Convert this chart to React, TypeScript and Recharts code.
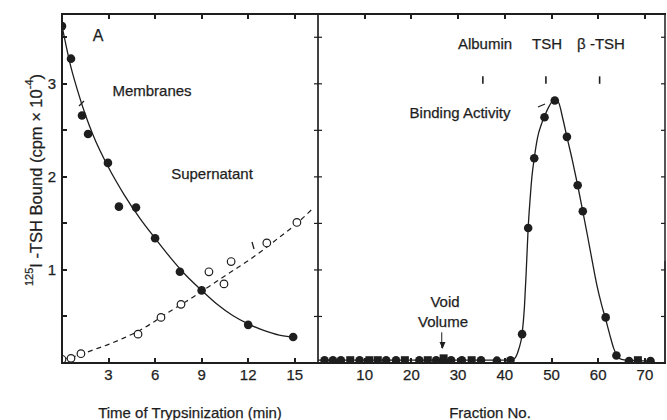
import React from "react";
import { ComposedChart, Line, Scatter, XAxis, YAxis, ReferenceLine } from "recharts";

const INK = "#1e1e1e";
const FONT = "'Liberation Sans', Arial, sans-serif";

// panel A - trypsin time course
const membraneTime = [0, 0.58, 1.29, 1.68, 2.96, 3.67, 4.77, 6.0, 7.6, 9.0, 12.0, 14.9];
const membraneBound = [3.62, 3.27, 2.66, 2.46, 2.15, 1.68, 1.67, 1.34, 0.98, 0.78, 0.41, 0.28];
const supernatantTime = [0, 0.58, 1.22, 4.9, 6.38, 7.67, 9.47, 10.44, 10.9, 13.2, 15.14];
const supernatantBound = [0.04, 0.05, 0.1, 0.31, 0.49, 0.63, 0.98, 0.85, 1.09, 1.29, 1.51];
// hand drawn curves
const membraneCurveTime = [0, 0.25, 0.5, 1, 1.5, 2, 3, 4, 5, 6, 7, 8, 9, 10, 11, 12, 13, 14, 14.9];
const membraneCurveBound = [3.62, 3.42, 3.23, 2.93, 2.67, 2.45, 2.1, 1.81, 1.56, 1.34, 1.13, 0.94, 0.78, 0.63, 0.51, 0.42, 0.35, 0.3, 0.28];
const supernatantCurveTime = [0, 1, 2, 3, 4, 5, 6, 7, 8, 9, 10, 11, 12, 13, 14, 15, 16.1];
const supernatantCurveBound = [0.04, 0.08, 0.14, 0.2, 0.27, 0.35, 0.45, 0.56, 0.66, 0.77, 0.88, 0.99, 1.1, 1.22, 1.35, 1.48, 1.65];

// panel B - gel filtration
const fraction = [1.4, 3.2, 4.9, 8.9, 14.6, 16.7, 21.7, 25.3, 28.5, 30.8, 34.9, 38.3, 41.2, 43.7, 45.0, 46.3, 48.5, 50.7, 53.3, 55.6, 56.7, 61.6, 63.9, 66.6, 71.2];
const binding = [0.03, 0.03, 0.03, 0.03, 0.03, 0.03, 0.03, 0.03, 0.03, 0.03, 0.03, 0.025, 0.03, 0.31, 1.45, 2.2, 2.64, 2.82, 2.43, 1.91, 1.63, 0.49, 0.08, 0.02, 0.02];
const squareFraction = [6.9, 11.0, 12.8, 18.6, 23.5, 26.9, 32.9, 68.5];
const squareBinding = [0.03, 0.03, 0.03, 0.03, 0.03, 0.05, 0.03, 0.03];
const curveFraction = [0, 10, 20, 30, 41.5, 42.3, 43, 43.7, 44.2, 44.6, 45, 45.4, 45.8, 46.3, 47, 47.8, 48.5, 49.5, 50.6, 51.5, 52.4, 53.3, 54.5, 55.6, 56.7, 57.7, 58.7, 59.7, 60.7, 61.6, 62.5, 63.3, 64, 65, 66.6, 71.2];
const curveBinding = [0.03, 0.03, 0.03, 0.03, 0.03, 0.06, 0.15, 0.31, 0.6, 1.0, 1.45, 1.75, 2.0, 2.2, 2.42, 2.56, 2.65, 2.76, 2.83, 2.8, 2.63, 2.43, 2.17, 1.91, 1.63, 1.37, 1.1, 0.84, 0.63, 0.47, 0.3, 0.16, 0.08, 0.04, 0.03, 0.02];
const markerFraction = [35.3, 48.8, 60.3]; // Albumin, TSH, beta-TSH

const timeTicks = [3, 6, 9, 12, 15];
const fractionTicks = [10, 20, 30, 40, 50, 60, 70];
const boundTicks = [0.5, 1, 1.5, 2, 2.5, 3, 3.5];

const TIME_MAX = 16.5;
const FRACTION_MAX = 74.3;
const BOUND_MAX = 3.75;

// plot box in pixels, matches the chart margins below
const PLOT_TOP = 14;
const PLOT_BOTTOM = 363;
const A_LEFT = 62;
const A_RIGHT = 318;
const B_RIGHT = 665;

const pts = (xs: number[], ys: number[]) => xs.map((x, i) => ({ x, y: ys[i] }));

const Dot = (p: any) => <circle cx={p.cx} cy={p.cy} r={4.3} fill={INK} />;
const OpenDot = (p: any) => <circle cx={p.cx} cy={p.cy} r={3.8} fill="#fff" stroke={INK} strokeWidth={1.2} />;
const Square = (p: any) => <rect x={p.cx - 4} y={p.cy - 4} width={8} height={8} fill={INK} />;

const tickStyle = { fill: INK, fontSize: 15, fontFamily: FONT, stroke: INK, strokeWidth: 0.25 };
const line = { stroke: INK, strokeWidth: 1.2 };
const blank = () => "";

function PanelA() {
  return (
    <ComposedChart width={320} height={420} margin={{ top: PLOT_TOP, right: 1, bottom: 27, left: 2 }}>
      <XAxis xAxisId="b" type="number" dataKey="x" domain={[0, TIME_MAX]} ticks={timeTicks} tickMargin={6} tickSize={0}
        height={30} axisLine={false} tickLine={false} tick={tickStyle} allowDataOverflow />
      <YAxis yAxisId="l" type="number" dataKey="y" domain={[0, BOUND_MAX]} ticks={boundTicks} tickSize={0} tickMargin={6}
        width={60} axisLine={false} tickLine={false} tick={tickStyle}
        tickFormatter={(v: number) => (Number.isInteger(v) ? String(v) : "")} allowDataOverflow />
      <YAxis yAxisId="r" orientation="right" type="number" dataKey="y" domain={[0, BOUND_MAX]} ticks={boundTicks} tickSize={-4}
        width={1} axisLine={line} tickLine={line} tickFormatter={blank} allowDataOverflow />
      <Line xAxisId="b" yAxisId="l" data={pts(membraneCurveTime, membraneCurveBound)} dataKey="y" type="monotone"
        dot={false} stroke={INK} strokeWidth={1.3} isAnimationActive={false} />
      <Line xAxisId="b" yAxisId="l" data={pts(supernatantCurveTime, supernatantCurveBound)} dataKey="y" type="monotone"
        dot={false} stroke={INK} strokeWidth={1.2} strokeDasharray="5 4" isAnimationActive={false} />
      <Scatter xAxisId="b" yAxisId="l" data={pts(supernatantTime, supernatantBound)} dataKey="y" shape={OpenDot} isAnimationActive={false} />
      <Scatter xAxisId="b" yAxisId="l" data={pts(membraneTime, membraneBound)} dataKey="y" shape={Dot} isAnimationActive={false} />
    </ComposedChart>
  );
}

function PanelB() {
  return (
    <ComposedChart width={367} height={420} margin={{ top: PLOT_TOP, right: 1, bottom: 27, left: 17 }}>
      <XAxis xAxisId="b" type="number" dataKey="x" domain={[0, FRACTION_MAX]} ticks={fractionTicks} tickMargin={6} tickSize={0}
        height={30} axisLine={false} tickLine={false} tick={tickStyle} allowDataOverflow />
      <YAxis yAxisId="l" type="number" dataKey="y" domain={[0, BOUND_MAX]} ticks={boundTicks} tickSize={-4}
        width={1} axisLine={line} tickLine={line} tickFormatter={blank} allowDataOverflow />
      <YAxis yAxisId="r" orientation="right" type="number" dataKey="y" domain={[0, BOUND_MAX]} ticks={boundTicks} tickSize={-4}
        width={1} axisLine={false} tickLine={line} tickFormatter={blank} allowDataOverflow />
      <ReferenceLine xAxisId="b" yAxisId="l" segment={[{ x: FRACTION_MAX, y: 0 }, { x: FRACTION_MAX, y: 1.1 }]} stroke={INK} strokeWidth={1.2} />
      {markerFraction.map((f) => (
        <ReferenceLine key={f} xAxisId="b" yAxisId="l" segment={[{ x: f, y: 3.08 }, { x: f, y: 3.0 }]} stroke={INK} strokeWidth={1.6} />
      ))}
      <ReferenceLine xAxisId="b" yAxisId="l" segment={[{ x: 26.5, y: 0.33 }, { x: 26.5, y: 0.16 }]} stroke={INK} strokeWidth={1} />
      <Line xAxisId="b" yAxisId="l" data={pts(curveFraction, curveBinding)} dataKey="y" type="monotone"
        dot={false} stroke={INK} strokeWidth={1.3} isAnimationActive={false} />
      <Scatter xAxisId="b" yAxisId="l" data={pts(fraction, binding)} dataKey="y" shape={Dot} isAnimationActive={false} />
      <Scatter xAxisId="b" yAxisId="l" data={pts(squareFraction, squareBinding)} dataKey="y" shape={Square} isAnimationActive={false} />
    </ComposedChart>
  );
}

// frame edges + inward ticks, 2px integer-aligned strips over the charts
function Frame() {
  const ax = (t: number) => Math.round(A_LEFT + (t / TIME_MAX) * (A_RIGHT - A_LEFT));
  const bx = (f: number) => Math.round(A_RIGHT + (f / FRACTION_MAX) * (B_RIGHT - A_RIGHT));
  const py = (v: number) => Math.round(PLOT_BOTTOM - (v / BOUND_MAX) * (PLOT_BOTTOM - PLOT_TOP));
  const xs = [...timeTicks.map(ax), ...fractionTicks.map(bx)];
  const bar = (k: string, left: number, top: number, w: number, h: number) => (
    <div key={k} style={{ position: "absolute", left, top, width: w, height: h, background: INK }} />
  );
  const parts = [
    bar("top", A_LEFT - 1, PLOT_TOP - 1, B_RIGHT - A_LEFT + 2, 2),
    bar("bottom", A_LEFT - 1, PLOT_BOTTOM - 1, B_RIGHT - A_LEFT + 2, 2),
    bar("left", A_LEFT - 1, PLOT_TOP - 1, 2, PLOT_BOTTOM - PLOT_TOP + 2),
  ];
  xs.forEach((x, i) => {
    parts.push(bar("xb" + i, x - 1, PLOT_BOTTOM - 5, 2, 5));
    parts.push(bar("xt" + i, x - 1, PLOT_TOP, 2, 5));
  });
  boundTicks.forEach((v, i) => parts.push(bar("yl" + i, A_LEFT, py(v) - 1, 5, 2)));
  return <div style={{ position: "absolute", left: 0, top: 0, width: 667, height: 420, zIndex: 10, pointerEvents: "none" }}>{parts}</div>;
}

export default function App() {
  const txt = { fill: INK, fontFamily: FONT, fontSize: 15, stroke: INK, strokeWidth: 0.25 } as const;
  return (
    <div style={{ position: "absolute", left: 0, top: 0, width: 667, height: 420, background: "#fff" }}>
      <div style={{ position: "absolute", left: 0, top: 0 }}>
        <PanelA />
      </div>
      <div style={{ position: "absolute", left: 300, top: 0 }}>
        <PanelB />
      </div>
      <svg width={667} height={420} style={{ position: "absolute", left: 0, top: 0, pointerEvents: "none", zIndex: 9 }}>
        <rect x={A_LEFT} y={PLOT_TOP} width={B_RIGHT - A_LEFT} height={PLOT_BOTTOM - PLOT_TOP} fill="none" stroke={INK} strokeWidth={1.5} />
        <g {...txt} dominantBaseline="central">
          <text x={98} y={35} textAnchor="middle" fontSize={16}>A</text>
          <text x={152} y={90} textAnchor="middle">Membranes</text>
          <text x={212} y={173} textAnchor="middle">Supernatant</text>
          <text x={485} y={43} textAnchor="middle">Albumin</text>
          <text x={547} y={43} textAnchor="middle">TSH</text>
          <text x={601} y={43} textAnchor="middle">β -TSH</text>
          <text x={460} y={112} textAnchor="middle">Binding Activity</text>
          <text x={445} y={301} textAnchor="middle">Void</text>
          <text x={443} y={321} textAnchor="middle">Volume</text>
          <text x={190} y={412} textAnchor="middle">Time of Trypsinization (min)</text>
          <text x={490} y={412} textAnchor="middle">Fraction No.</text>
          <text transform="translate(36,180) rotate(-90)" textAnchor="middle" fontSize={16.5}>
            <tspan fontSize={11} dy={-7}>125</tspan>
            <tspan dy={7}>I -TSH Bound (cpm × 10</tspan>
            <tspan fontSize={11} dy={-7}>-4</tspan>
            <tspan dy={7}>)</tspan>
          </text>
        </g>
        <g stroke={INK} strokeWidth={1.3}>
          <line x1={79} y1={106} x2={84} y2={101} />
          <line x1={252} y1={242} x2={254} y2={249} />
          <line x1={538} y1={107} x2={545} y2={104} />
        </g>
        <path d="M439.5,342 L442.5,349 L445.5,342 Z" fill={INK} />
      </svg>
      <Frame />
    </div>
  );
}
